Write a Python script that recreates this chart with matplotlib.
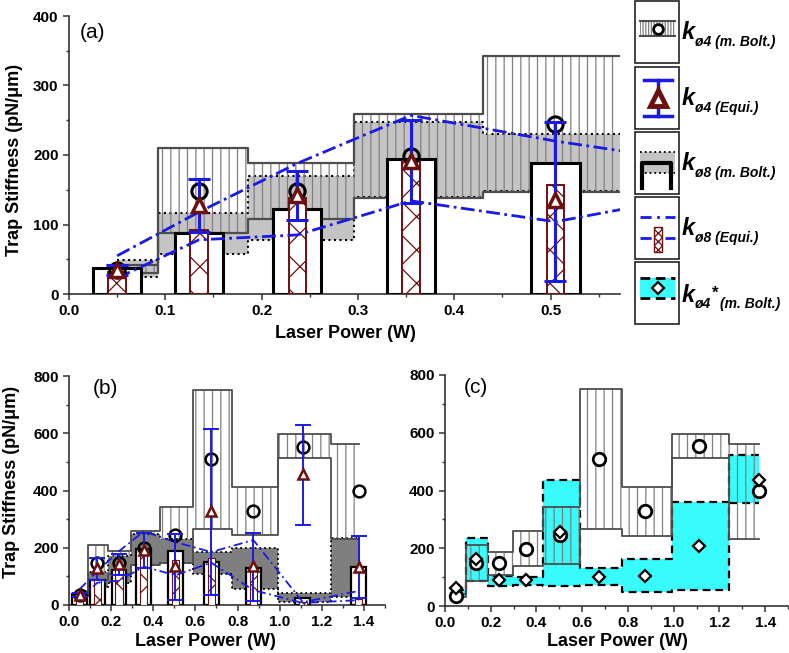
import numpy as np
import matplotlib
matplotlib.use("Agg")
import matplotlib.pyplot as plt
from matplotlib.patches import Rectangle
from matplotlib.ticker import MultipleLocator

plt.rcParams["font.family"] = ["Liberation Sans", "DejaVu Sans"]
plt.rcParams["hatch.linewidth"] = 0.9

# laser power of each measurement (W)
power = [0.05, 0.135, 0.237, 0.355, 0.505, 0.675, 0.875, 1.11, 1.375]

# k_ø4 (m. Bolt.): points + range
k4_bolt = [35, 148, 148, 198, 245, 510, 328, 553, 397]
k4_bolt_lo = [30, 88, 108, 138, 147, 267, 243, 512, 232]
k4_bolt_hi = [42, 210, 188, 259, 343, 750, 412, 596, 561]

# k_ø4 (Equi.): points + error bars
k4_equi = [35, 128, 143, 192, 135, 328, 136, 457, 134]
k4_equi_lo = [27, 89, 106, 131, 18, 35, 14, 280, 24]
k4_equi_hi = [42, 165, 177, 250, 247, 615, 252, 629, 241]

# k_ø8 (m. Bolt.): bars + range
k8_bolt = [37, 88, 123, 194, 188, 150, 129, 25, 133]
k8_bolt_lo = [25, 58, 77, 139, 148, 110, 56, 11, 28]
k8_bolt_hi = [49, 117, 170, 248, 230, 185, 199, 42, 234]

# k_ø8 (Equi.): bars + range lines
k8_equi = [32, 92, 138, 192, 157, 165, 135, 10, 22]
k8_equi_lo = [23, 78, 85, 134, 104, 148, 52, 7, 17]
k8_equi_hi = [55, 118, 188, 257, 220, 185, 227, 10, 49]

# k_ø4* (m. Bolt.): points + range
k4s_bolt = [64, 162, 90, 90, 256, 101, 104, 207, 438]
k4s_bolt_lo = [36, 86, 68, 74, 70, 72, 48, 55, 355]
k4s_bolt_hi = [56, 235, 104, 100, 436, 131, 163, 360, 522]

BLUE = "#1a1ae6"
BROWN = "#6b0f0f"
CYAN = "#38fcfc"
HATCH = "#808080"
EDGE = "#4d4d4d"

W, H = 789, 653
p = np.array(power)
edges = np.concatenate([[p[0]], (p[:-1] + p[1:]) / 2, [p[-1]]])
sx = np.repeat(edges, 2)[1:-1]


def sy(v):
    return np.repeat(np.asarray(v, float), 2)


def band(ax, lo, hi, fc, line_color, ls, lw, z, hatch=None):
    ax.fill_between(sx, sy(lo), sy(hi), facecolor=fc, edgecolor=HATCH,
                    hatch=hatch, linewidth=0, zorder=z)
    ax.plot(sx, sy(lo), color=line_color, ls=ls, lw=lw, zorder=z)
    ax.plot(sx, sy(hi), color=line_color, ls=ls, lw=lw, zorder=z)


def style_axes(ax, xmax, ymax, xmaj, xmin, ymaj, ymin):
    ax.set_xlim(0, xmax)
    ax.set_ylim(0, ymax)
    for s in ("top", "right"):
        ax.spines[s].set_visible(False)
    for s in ("left", "bottom"):
        ax.spines[s].set_linewidth(1.2)
        ax.spines[s].set_color("#333333")
    ax.xaxis.set_major_locator(MultipleLocator(xmaj))
    ax.xaxis.set_minor_locator(MultipleLocator(xmin))
    ax.yaxis.set_major_locator(MultipleLocator(ymaj))
    ax.yaxis.set_minor_locator(MultipleLocator(ymin))
    ax.tick_params(which="major", direction="out", length=4, width=1.1,
                   labelsize=11, color="#333333")
    ax.tick_params(which="minor", direction="out", length=2.5, width=1.0,
                   color="#333333")
    for lab in ax.get_xticklabels() + ax.get_yticklabels():
        lab.set_fontweight("bold")
    ax.xaxis.set_major_formatter(lambda v, pos: f"{v:.1f}")
    ax.yaxis.set_major_formatter(lambda v, pos: f"{v:.0f}")


def ax_at(x0, y0, x1, y1):
    return fig.add_axes([x0 / W, 1 - y1 / H, (x1 - x0) / W, (y1 - y0) / H])


fig = plt.figure(figsize=(7.89, 6.53), dpi=100)

# ---------------- panel (a)
ax_a = ax_at(69, 16, 620, 294)
band(ax_a, k8_bolt_lo, k8_bolt_hi, "#c4c4c4", "black", ":", 1.5, 1)
band(ax_a, k4_bolt_lo, k4_bolt_hi, "none", EDGE, "-", 1.6, 2, hatch="||")
ax_a.bar(power, k8_bolt, 0.05, facecolor="white", edgecolor="black",
         linewidth=2.2, zorder=3)
ax_a.bar(power, k8_equi, 0.018, facecolor="white", edgecolor=BROWN,
         hatch="x", linewidth=1.4, zorder=4)
dd = (0, (5, 1.6, 1, 1.6))
ax_a.plot(power, k8_equi_hi, color=BLUE, ls=dd, lw=2, zorder=5)
ax_a.plot(power, k8_equi_lo, color=BLUE, ls=dd, lw=2, zorder=5)
ax_a.plot(power, k4_bolt, "o", ms=11, mfc="none", mec="black", mew=2.2,
          zorder=6)
err = [np.array(k4_equi) - np.array(k4_equi_lo),
       np.array(k4_equi_hi) - np.array(k4_equi)]
ax_a.errorbar(power, k4_equi, yerr=err, fmt="none", ecolor=BLUE,
              elinewidth=2.2, capsize=8, capthick=2.2, zorder=7)
ax_a.plot(power, k4_equi, "^", ms=10, mfc="white", mec=BROWN, mew=2.5,
          zorder=8)
style_axes(ax_a, 0.572, 400, 0.1, 0.05, 100, 50)
ax_a.text(0.02, 0.975, "(a)", transform=ax_a.transAxes, fontsize=15,
          va="top")

# ---------------- panel (b)
ax_b = ax_at(69, 376, 385, 605)
band(ax_b, k8_bolt_lo, k8_bolt_hi, "#7f7f7f", "black", ":", 1.3, 1)
band(ax_b, k4_bolt_lo, k4_bolt_hi, "none", EDGE, "-", 1.3, 2, hatch="||")
ax_b.bar(power, k8_bolt, 0.07, facecolor="white", edgecolor="black",
         linewidth=1.6, zorder=3)
ax_b.bar(power, k8_equi, 0.035, facecolor="white", edgecolor=BROWN,
         hatch="x", linewidth=0.8, zorder=4)
dd_b = (0, (5, 2, 1, 2))
ax_b.plot(power, k8_equi_hi, color=BLUE, ls=dd_b, lw=1.3, zorder=5)
ax_b.plot(power, k8_equi_lo, color=BLUE, ls=dd_b, lw=1.3, zorder=5)
ax_b.plot(power, k4_bolt, "o", ms=8.5, mfc="none", mec="black", mew=1.8,
          zorder=6)
ax_b.errorbar(power, k4_equi, yerr=err, fmt="none", ecolor=BLUE,
              elinewidth=1.4, capsize=6, capthick=1.4, zorder=7)
ax_b.plot(power, k4_equi, "^", ms=7, mfc="white", mec=BROWN, mew=1.8,
          zorder=8)
style_axes(ax_b, 1.5, 800, 0.2, 0.1, 200, 100)
ax_b.text(0.075, 0.985, "(b)", transform=ax_b.transAxes, fontsize=15,
          va="top")

# ---------------- panel (c)
ax_c = ax_at(445, 375, 788, 606)
band(ax_c, k4s_bolt_lo, k4s_bolt_hi, CYAN, "black", (0, (3.5, 2.2)), 1.6, 1)
band(ax_c, k4_bolt_lo, k4_bolt_hi, "none", EDGE, "-", 1.3, 2, hatch="||")
ax_c.plot(power, k4_bolt, "o", ms=9, mfc="white", mec="black", mew=2,
          zorder=5)
ax_c.plot(power, k4s_bolt, "D", ms=6.5, mfc="white", mec="black", mew=1.6,
          zorder=6)
style_axes(ax_c, 1.5, 800, 0.2, 0.1, 200, 100)
ax_c.text(0.055, 0.985, "(c)", transform=ax_c.transAxes, fontsize=15,
          va="top")

# axis titles
lab = dict(fontsize=13, fontweight="bold", ha="center", va="center")
fig.text(15 / W, 1 - 160 / H, "Trap Stiffness (pN/μm)", rotation=90, **lab)
fig.text(12 / W, 1 - 482 / H, "Trap Stiffness (pN/μm)", rotation=90, **lab)
fig.text(345 / W, 1 - 333 / H, "Laser Power (W)", **lab)
fig.text(205 / W, 1 - 641 / H, "Laser Power (W)", **lab)
fig.text(617 / W, 1 - 641 / H, "Laser Power (W)", **lab)

# ---------------- legend boxes
lax = ax_at(630, 0, 789, 328)
lax.set_xlim(630, 789)
lax.set_ylim(328, 0)
lax.axis("off")
tops = [1, 67, 132, 197, 262]
for t in tops:
    lax.add_patch(Rectangle((635, t), 44, 62, fill=False, ec="#222222",
                            lw=1.2))

# 1: k_ø4 (m. Bolt.)
lax.add_patch(Rectangle((640, 21), 35, 15, facecolor="none", edgecolor=HATCH,
                        hatch="||||||", lw=0))
lax.plot([640, 675], [21, 21], color=EDGE, lw=1.5)
lax.plot([640, 675], [36, 36], color=EDGE, lw=1.5)
lax.plot(658, 29, "o", ms=7, mfc="white", mec="black", mew=2)
# 2: k_ø4 (Equi.)
lax.plot([658, 658], [80, 116], color=BLUE, lw=2.5)
lax.plot([644, 672], [80, 80], color=BLUE, lw=2.5)
lax.plot([644, 672], [116, 116], color=BLUE, lw=2.5)
lax.plot(658, 98, "^", ms=12, mfc="white", mec=BROWN, mew=3.5)
# 3: k_ø8 (m. Bolt.)
lax.add_patch(Rectangle((640, 152), 35, 21, facecolor="#c4c4c4", lw=0))
lax.plot([640, 675], [152, 152], color="black", ls=":", lw=1.3)
lax.plot([640, 675], [173, 173], color="black", ls=":", lw=1.3)
lax.plot([642, 642, 671, 671], [188, 163, 163, 188], color="black", lw=3)
# 4: k_ø8 (Equi.)
lax.plot([640, 675], [217, 217], color=BLUE, ls=(0, (4, 2, 1, 2)), lw=2)
lax.plot([640, 675], [238, 238], color=BLUE, ls=(0, (4, 2, 1, 2)), lw=2)
lax.add_patch(Rectangle((654, 227), 8, 25, facecolor="white", edgecolor=BROWN,
                        hatch="xxxx", lw=1, zorder=3))
# 5: k_ø4* (m. Bolt.)
lax.add_patch(Rectangle((640, 278), 35, 20, facecolor=CYAN, lw=0))
lax.plot([640, 675], [278, 278], color="black", ls=(0, (3.5, 2)), lw=2)
lax.plot([640, 675], [298, 298], color="black", ls=(0, (3.5, 2)), lw=2)
lax.plot(658, 288, "D", ms=6, mfc="white", mec="black", mew=1.6)

subs = ["ø4 (m. Bolt.)", "ø4 (Equi.)", "ø8 (m. Bolt.)", "ø8 (Equi.)"]
kfont = dict(fontsize=17, fontweight="bold", style="italic", va="baseline")
sfont = dict(fontsize=10, fontweight="bold", style="italic", va="baseline")
for t, s in zip(tops[:4], subs):
    lax.text(682, t + 38, "k", **kfont)
    lax.text(695, t + 45, s, **sfont)
lax.text(682, 262 + 40, "k", **kfont)
lax.text(695, 262 + 46, "ø4", **sfont)
lax.text(712, 262 + 36, "*", fontsize=12, fontweight="bold", va="baseline")
lax.text(720, 262 + 46, "(m. Bolt.)", **sfont)

fig.savefig("out.png", dpi=100)
